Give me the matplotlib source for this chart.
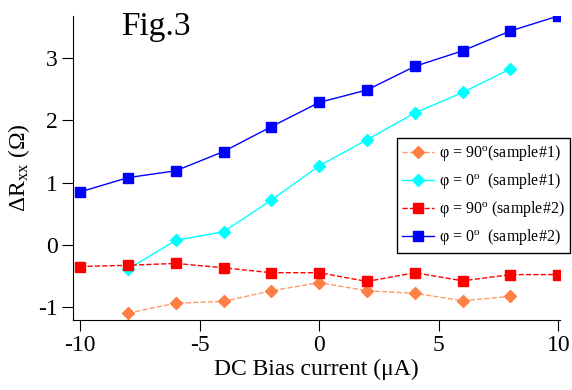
import numpy as np
import matplotlib
matplotlib.use('Agg')
import matplotlib.pyplot as plt

plt.rcParams['font.family'] = 'Liberation Serif'
plt.rcParams['mathtext.fontset'] = 'custom'
plt.rcParams['mathtext.rm'] = 'Liberation Serif'
plt.rcParams['mathtext.it'] = 'Liberation Serif:italic'
plt.rcParams['axes.unicode_minus'] = False

# data
x_s1 = [-8, -6, -4, -2, 0, 2, 4, 6, 8]
y_90_s1 = [-1.10, -0.94, -0.91, -0.74, -0.61, -0.74, -0.78, -0.90, -0.83]
y_0_s1 = [-0.39, 0.07, 0.21, 0.72, 1.27, 1.69, 2.12, 2.45, 2.83]

x_s2 = [-10, -8, -6, -4, -2, 0, 2, 4, 6, 8, 10]
y_90_s2 = [-0.35, -0.33, -0.30, -0.37, -0.45, -0.45, -0.59, -0.45, -0.58, -0.48, -0.48]
y_0_s2 = [0.85, 1.08, 1.19, 1.50, 1.90, 2.29, 2.49, 2.87, 3.12, 3.44, 3.68]

labels = [r'φ = 90$^{\rm o}$(sample#1)', r'φ = 0$^{\rm o}$  (sample#1)',
          r'φ = 90$^{\rm o}$ (sample#2)', r'φ = 0$^{\rm o}$  (sample#2)']

fig = plt.figure(figsize=(5.72, 3.90), dpi=100)
ax = fig.add_axes([0.1276, 0.1795, 0.8514, 0.7795])

ax.plot(x_s1, y_90_s1, ls='--', color='#FF9A6A', lw=1, marker='D', ms=6.5, mec='#FF7F45', mfc='#FF7F45', label=labels[0])
ax.plot(x_s1, y_0_s1, ls='-', color='#00FFFF', lw=1, marker='D', ms=6.5, label=labels[1])
ax.plot(x_s2, y_90_s2, ls='--', color='#FF0000', lw=1, marker='s', ms=7, label=labels[2])
ax.plot(x_s2, y_0_s2, ls='-', color='#0000FF', lw=1, marker='s', ms=7, label=labels[3])

ax.set_xlim(-10.3, 10.07)
ax.set_ylim(-1.21, 3.68)
ax.set_xticks([-10, -5, 0, 5, 10])
ax.set_yticks([-1, 0, 1, 2, 3])
ax.spines['top'].set_visible(False)
ax.spines['right'].set_visible(False)
ax.tick_params(direction='out', length=8, labelsize=17, pad=3)
ax.set_xlabel('DC Bias current (μA)', fontsize=17, labelpad=2)
ax.set_ylabel(r'ΔR$_{\rm xx}$ (Ω)', fontsize=17, labelpad=4)
ax.text(-8.3, 3.37, 'Fig.3', fontsize=24)

leg = ax.legend(loc='upper left', bbox_to_anchor=(0.665, 0.6), fontsize=11.5,
                frameon=True, fancybox=False, edgecolor='black', framealpha=1,
                handlelength=2.0, borderpad=0.35, labelspacing=0.5, handletextpad=0.3,
                borderaxespad=0)
leg.get_frame().set_linewidth(1.0)

fig.savefig('out.png', dpi=100)
